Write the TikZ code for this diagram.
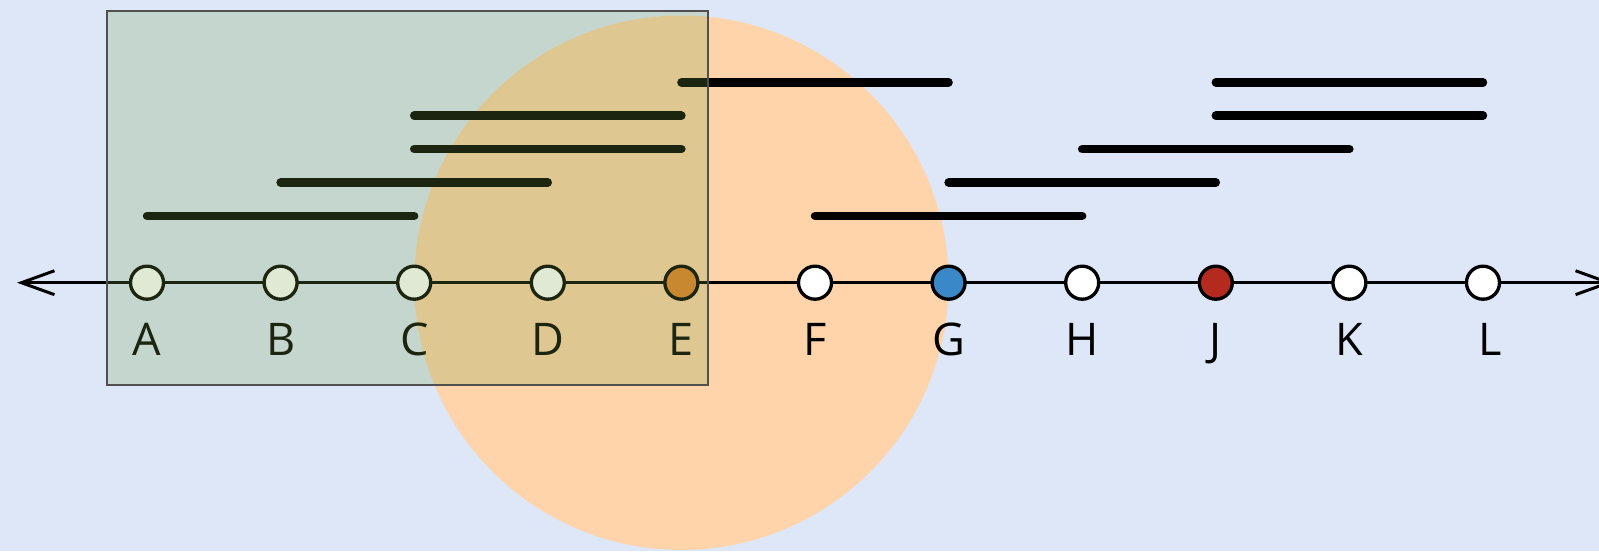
\documentclass[tikz,border=0pt]{standalone}
\usepackage{fontspec}
\setmainfont{Open Sans}
\usetikzlibrary{arrows.meta}
\definecolor{skyback}{RGB}{221,231,248}
\definecolor{peach}{RGB}{255,212,170}
\definecolor{olivewash}{RGB}{121,160,69}
\definecolor{frame}{RGB}{80,80,80}
\definecolor{ochre}{RGB}{223,130,42}
\definecolor{steel}{RGB}{58,136,200}
\definecolor{brick}{RGB}{180,42,30}
\tikzset{
  pt/.style={circle, draw=black, line width=0.95pt, fill=white,
             minimum size=0.33cm, inner sep=0pt},
  lbl/.style={anchor=base, inner sep=0pt, font=\fontsize{12.8}{15}\selectfont},
  bar/.style={line width=2.4pt, line cap=round},
  axis/.style={line width=0.85pt,
    {Straight Barb[length=9.4pt,width=6.8pt,line width=0.85pt]}-{Straight Barb[length=9.4pt,width=6.8pt,line width=0.85pt]}},
  wash/.style={fill=olivewash, fill opacity=0.23, draw=frame, draw opacity=1, line width=0.75pt}
}
\begin{document}
\begin{tikzpicture}[x=0.01cm,y=-0.01cm]
  \useasboundingbox (0,0) rectangle (1599,551);
  \clip (0,0) rectangle (1599,551);
  \fill[skyback] (0,0) rectangle (1599,551);

  % number line points
  \foreach \n [count=\i from 0] in {A,B,C,D,E,F,G,H,J,K,L}
    \coordinate (\n) at ({147+133.6*\i},282.7);

  % disc around E
  \fill[peach] (E) circle (267.2);

  % interval rows
  \foreach \k in {2,...,6}
    \coordinate (r\k) at (0,{282.7-33.4*\k});
  \draw[bar] (E |- r6) -- (G |- r6);
  \draw[bar] (C |- r5) -- (E |- r5);
  \draw[bar] (C |- r4) -- (E |- r4);
  \draw[bar] (B |- r3) -- (D |- r3);
  \draw[bar] (A |- r2) -- (C |- r2);
  \draw[bar] (J |- r6) -- (L |- r6);
  \draw[bar] (J |- r5) -- (L |- r5);
  \draw[bar] (H |- r4) -- (K |- r4);
  \draw[bar] (G |- r3) -- (J |- r3);
  \draw[bar] (F |- r2) -- (H |- r2);

  % axis
  \coordinate (lend) at (17,282.7);
  \coordinate (rend) at (1613,282.7);
  \draw[axis] (lend) -- (rend);

  % points and their labels
  \foreach \n in {A,B,C,D,F,H,K,L}
    \node[pt] (p\n) at (\n) {};
  \node[pt, fill=ochre] (pE) at (E) {};
  \node[pt, fill=steel] (pG) at (G) {};
  \node[pt, fill=brick] (pJ) at (J) {};
  \foreach \n in {A,B,C,D,E,F,G,H,J,K}
    \node[lbl] (t\n) at ([yshift=-0.723cm]\n) {\n};
  \node[lbl] (tL) at ([xshift=0.07cm,yshift=-0.723cm]L) {L};

  % translucent window over the left part
  \draw[wash] (107,11) rectangle (708,385);
\end{tikzpicture}
\end{document}
